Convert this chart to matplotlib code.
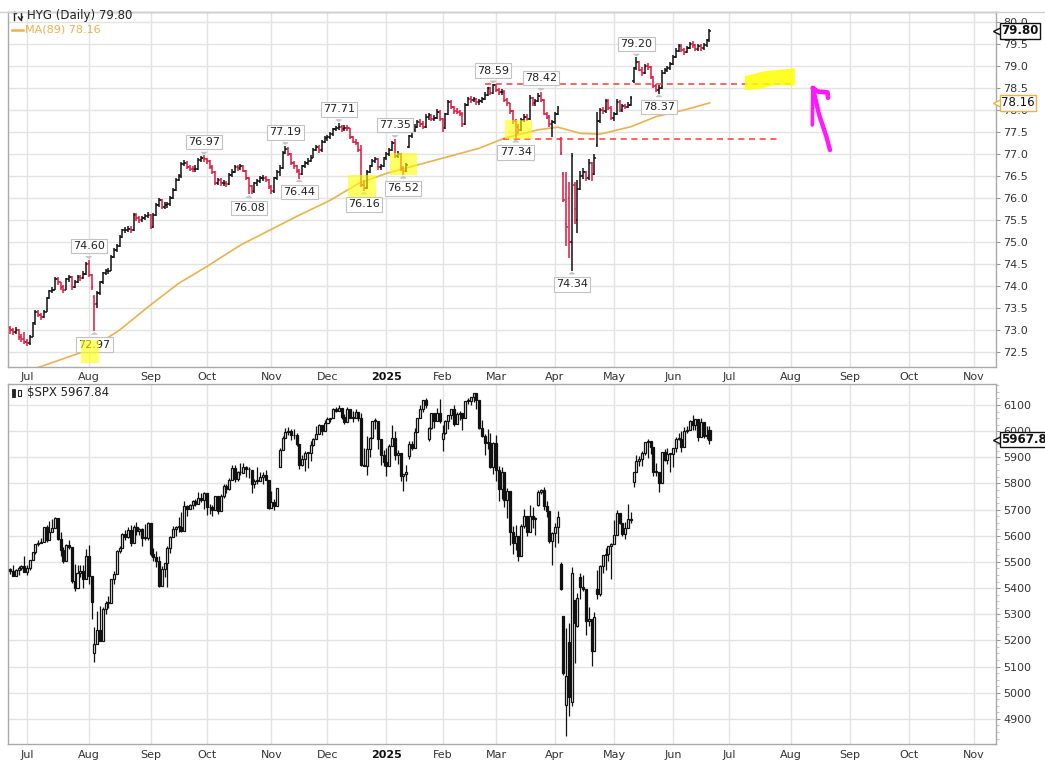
import numpy as np
import pandas as pd
import matplotlib
matplotlib.use("Agg")
import matplotlib.pyplot as plt
from matplotlib import transforms
from matplotlib.patches import Polygon, Rectangle
from matplotlib.lines import Line2D

# trading calendar (NYSE holidays removed)
holidays = ["2024-07-04", "2024-09-02", "2024-11-28", "2024-12-25", "2025-01-01",
            "2025-01-09", "2025-01-20", "2025-02-17", "2025-04-18", "2025-05-26",
            "2025-06-19", "2025-07-04", "2025-09-01", "2025-11-27"]

# ---------------- HYG daily (adjusted) ----------------
hyg_close = [
    # Jun 2024
    73.00, 72.95, 73.00, 72.85, 72.80, 72.72,
    # Jul
    72.70, 72.85, 73.15, 73.40, 73.35, 73.30, 73.42, 73.72, 73.88, 73.92, 74.15,
    74.08, 73.98, 73.92, 74.15, 74.20, 73.98, 74.10, 74.20, 74.18, 74.28, 74.50,
    # Aug
    74.25, 73.98, 73.60, 73.83, 74.08, 74.29, 74.33, 74.35, 74.67, 74.82, 74.90,
    75.12, 75.27, 75.27, 75.30, 75.28, 75.61, 75.54, 75.50, 75.54, 75.58, 75.62,
    # Sep
    75.35, 75.62, 75.84, 75.95, 75.80, 75.84, 75.86, 76.00, 76.18, 76.41, 76.50,
    76.78, 76.80, 76.71, 76.67, 76.66, 76.67, 76.86, 76.90, 76.88,
    # Oct
    76.83, 76.71, 76.60, 76.35, 76.41, 76.33, 76.33, 76.32, 76.52, 76.60, 76.71,
    76.68, 76.72, 76.62, 76.45, 76.28, 76.15, 76.33, 76.38, 76.45, 76.45, 76.42, 76.25,
    # Nov
    76.15, 76.45, 76.60, 76.68, 77.02, 77.12, 77.00, 76.80, 76.72, 76.62, 76.55,
    76.72, 76.80, 76.85, 76.92, 77.10, 77.15, 77.08, 77.28, 77.36,
    # Dec
    77.38, 77.45, 77.56, 77.58, 77.62, 77.56, 77.60, 77.58, 77.38, 77.28, 77.25,
    77.10, 76.30, 76.22, 76.60, 76.72, 76.85, 76.88, 76.70, 76.72, 76.90,
    # Jan 2025
    77.00, 77.09, 77.25, 76.95, 77.00, 76.68, 76.62, 76.75, 77.40, 77.55, 77.62,
    77.72, 77.68, 77.62, 77.85, 77.88, 77.80, 77.82, 77.96, 77.80,
    # Feb
    77.58, 77.90, 78.19, 78.07, 77.98, 77.96, 77.92, 77.68, 78.12, 78.26, 78.22,
    78.25, 78.18, 78.20, 78.25, 78.34, 78.49, 78.38, 78.57,
    # Mar
    78.45, 78.40, 78.42, 78.23, 78.15, 77.98, 77.75, 77.62, 77.55, 77.77, 77.85,
    77.80, 78.27, 78.15, 78.20, 78.32, 78.22, 77.92, 77.85, 77.68, 77.72,
    # Apr
    77.92, 78.05, 77.02, 75.95, 75.35, 75.00, 76.95, 75.75, 76.20, 76.50, 76.60,
    76.45, 76.80, 76.55, 76.90, 77.75, 78.00, 77.98, 78.20, 78.05, 77.82,
    # May
    77.90, 78.19, 78.00, 78.10, 78.07, 78.12, 78.27, 78.95, 79.10, 78.92, 78.85,
    79.00, 78.97, 78.75, 78.55, 78.45, 78.50, 78.85, 78.90, 78.95, 79.05,
    # Jun
    79.20, 79.35, 79.45, 79.37, 79.32, 79.42, 79.50, 79.47, 79.38, 79.45, 79.40,
    79.47, 79.58, 79.80,
]
hyg_high = [
    73.10, 73.05, 73.06, 73.02, 72.90, 72.96,
    72.80, 72.88, 73.18, 73.45, 73.46, 73.38, 73.46, 73.75, 73.92, 73.98, 74.20,
    74.20, 74.10, 74.02, 74.18, 74.26, 74.22, 74.14, 74.25, 74.26, 74.33, 74.55,
    74.60, 74.28, 73.80, 73.88, 74.12, 74.32, 74.38, 74.40, 74.70, 74.86, 74.95,
    75.15, 75.30, 75.34, 75.36, 75.36, 75.65, 75.66, 75.58, 75.60, 75.64, 75.68,
    75.64, 75.66, 75.88, 76.00, 75.98, 75.90, 75.92, 76.04, 76.22, 76.45, 76.55,
    76.82, 76.86, 76.83, 76.76, 76.73, 76.74, 76.90, 76.95, 76.97,
    76.92, 76.86, 76.74, 76.62, 76.46, 76.45, 76.40, 76.38, 76.56, 76.65, 76.75,
    76.76, 76.78, 76.75, 76.64, 76.47, 76.30, 76.37, 76.43, 76.50, 76.52, 76.50, 76.44,
    76.30, 76.48, 76.64, 76.75, 77.06, 77.19, 77.15, 77.02, 76.85, 76.75, 76.65,
    76.76, 76.84, 76.90, 76.97, 77.14, 77.20, 77.20, 77.32, 77.40,
    77.44, 77.50, 77.60, 77.64, 77.71, 77.66, 77.65, 77.66, 77.60, 77.42, 77.34,
    77.28, 77.20, 76.40, 76.64, 76.76, 76.88, 76.94, 76.90, 76.78, 76.94,
    77.05, 77.14, 77.30, 77.35, 77.06, 77.02, 76.72, 76.80, 77.44, 77.60, 77.68,
    77.78, 77.80, 77.74, 77.90, 77.94, 77.92, 77.88, 78.02, 78.00,
    77.82, 77.94, 78.22, 78.22, 78.10, 78.04, 78.00, 77.95, 78.16, 78.30, 78.32,
    78.30, 78.28, 78.26, 78.30, 78.40, 78.53, 78.52, 78.59,
    78.58, 78.50, 78.48, 78.45, 78.27, 78.17, 78.00, 77.80, 77.68, 77.82, 77.90,
    77.92, 78.34, 78.30, 78.26, 78.38, 78.42, 78.24, 77.96, 77.88, 77.78,
    77.96, 78.10, 77.38, 76.58, 76.60, 76.37, 77.02, 76.37, 76.40, 76.62, 76.68,
    76.62, 76.88, 76.82, 77.00, 77.96, 78.05, 78.06, 78.24, 78.24, 78.08,
    77.96, 78.24, 78.22, 78.14, 78.14, 78.18, 78.32, 78.98, 79.20, 79.12, 78.98,
    79.05, 79.06, 79.00, 78.78, 78.60, 78.56, 78.90, 78.96, 79.00, 79.10,
    79.24, 79.40, 79.50, 79.50, 79.42, 79.46, 79.55, 79.56, 79.50, 79.50, 79.50,
    79.52, 79.62, 79.85,
]
hyg_low = [
    72.92, 72.88, 72.90, 72.78, 72.72, 72.68,
    72.64, 72.66, 72.84, 73.12, 73.30, 73.22, 73.28, 73.40, 73.70, 73.84, 73.90,
    74.02, 73.90, 73.84, 73.90, 74.10, 73.92, 73.95, 74.06, 74.12, 74.15, 74.26,
    74.20, 73.90, 72.97, 73.50, 73.80, 74.05, 74.24, 74.28, 74.33, 74.64, 74.78,
    74.88, 75.10, 75.20, 75.22, 75.20, 75.26, 75.48, 75.44, 75.46, 75.50, 75.54,
    75.30, 75.32, 75.60, 75.80, 75.74, 75.76, 75.78, 75.82, 75.97, 76.15, 76.38,
    76.46, 76.72, 76.66, 76.62, 76.60, 76.60, 76.64, 76.82, 76.82,
    76.78, 76.66, 76.55, 76.30, 76.30, 76.28, 76.27, 76.26, 76.30, 76.48, 76.57,
    76.62, 76.64, 76.58, 76.40, 76.08, 76.10, 76.12, 76.28, 76.35, 76.39, 76.37, 76.20,
    76.10, 76.12, 76.42, 76.50, 76.66, 77.00, 76.95, 76.75, 76.66, 76.56, 76.44,
    76.52, 76.68, 76.76, 76.82, 76.90, 77.06, 77.02, 77.05, 77.24,
    77.30, 77.34, 77.42, 77.52, 77.54, 77.50, 77.52, 77.52, 77.34, 77.24, 77.20,
    77.05, 76.25, 76.16, 76.20, 76.56, 76.70, 76.80, 76.64, 76.64, 76.70,
    76.86, 76.96, 77.06, 76.90, 76.90, 76.62, 76.52, 76.60, 77.14, 77.36, 77.50,
    77.58, 77.62, 77.56, 77.60, 77.78, 77.74, 77.74, 77.80, 77.75,
    77.50, 77.56, 77.88, 78.02, 77.92, 77.90, 77.86, 77.62, 77.66, 78.10, 78.16,
    78.18, 78.12, 78.12, 78.16, 78.22, 78.32, 78.33, 78.36,
    78.40, 78.34, 78.35, 78.18, 78.08, 77.92, 77.68, 77.34, 77.45, 77.52, 77.72,
    77.74, 77.78, 78.10, 78.10, 78.18, 78.18, 77.88, 77.80, 77.62, 77.38,
    77.68, 77.88, 76.98, 75.92, 74.90, 74.63, 74.34, 75.40, 75.20, 76.18, 76.44,
    76.38, 76.42, 76.38, 76.52, 77.17, 77.70, 77.92, 77.94, 78.00, 77.78,
    77.76, 77.88, 77.96, 77.95, 78.02, 78.04, 78.10, 78.61, 78.92, 78.88, 78.78,
    78.82, 78.90, 78.70, 78.50, 78.40, 78.37, 78.48, 78.82, 78.86, 78.92,
    79.02, 79.18, 79.32, 79.32, 79.26, 79.30, 79.38, 79.42, 79.33, 79.34, 79.35,
    79.36, 79.44, 79.55,
]
# opens that differ from the prior close (gaps)
hyg_gap_open = {"2024-06-21": 73.05, "2024-08-05": 73.75, "2025-01-15": 77.15,
                "2025-04-03": 77.35, "2025-04-04": 76.55, "2025-04-07": 75.40,
                "2025-04-08": 76.00, "2025-04-10": 76.30, "2025-04-11": 75.50,
                "2025-04-23": 77.20, "2025-05-12": 78.65}

# MA(89)
ma_dates = ["2024-06-21", "2024-07-09", "2024-08-01", "2024-08-16", "2024-09-03",
            "2024-09-17", "2024-10-01", "2024-10-17", "2024-11-14", "2024-12-03",
            "2024-12-17", "2025-01-02", "2025-01-21", "2025-02-05", "2025-02-21",
            "2025-03-06", "2025-03-24", "2025-04-02", "2025-04-14", "2025-04-24",
            "2025-05-09", "2025-05-22", "2025-06-06", "2025-06-20"]
ma_vals = [71.95, 72.17, 72.55, 73.00, 73.57, 74.06, 74.44, 74.93, 75.58, 75.95,
           76.33, 76.56, 76.75, 76.94, 77.13, 77.36, 77.55, 77.61, 77.47, 77.45,
           77.62, 77.85, 78.00, 78.16]

# labelled swing points (date, high/low)
hyg_marks = [("2024-08-01", "high"), ("2024-08-05", "low"), ("2024-09-30", "high"),
             ("2024-10-22", "low"), ("2024-11-08", "high"), ("2024-11-15", "low"),
             ("2024-12-06", "high"), ("2024-12-19", "low"), ("2025-01-07", "high"),
             ("2025-01-13", "low"), ("2025-02-28", "high"), ("2025-03-12", "low"),
             ("2025-03-25", "high"), ("2025-04-09", "low"), ("2025-05-13", "high"),
             ("2025-05-23", "low")]

# ---------------- $SPX daily ----------------
spx_close = [
    5464.62, 5447.87, 5469.30, 5477.90, 5482.87, 5460.48,
    5475.09, 5509.01, 5537.02, 5567.19, 5572.85, 5576.98, 5633.91, 5584.54, 5615.35,
    5631.22, 5667.20, 5588.27, 5544.59, 5505.00, 5564.41, 5555.74, 5427.13, 5399.22,
    5459.10, 5463.54, 5436.44, 5522.30,
    5446.68, 5346.56, 5186.33, 5240.03, 5199.50, 5319.31, 5344.16, 5344.39, 5434.43,
    5455.21, 5543.22, 5554.25, 5608.25, 5597.12, 5620.85, 5570.64, 5634.61, 5616.84,
    5625.80, 5592.18, 5591.96, 5648.40,
    5528.93, 5520.07, 5503.41, 5408.42, 5471.05, 5495.52, 5554.13, 5595.76, 5626.02,
    5633.09, 5634.58, 5618.26, 5713.64, 5702.55, 5718.57, 5732.93, 5722.26, 5745.37,
    5738.17, 5762.48,
    5708.75, 5709.54, 5699.94, 5751.07, 5695.94, 5751.13, 5792.04, 5780.05, 5815.03,
    5859.85, 5815.26, 5842.47, 5841.47, 5864.67, 5853.98, 5851.20, 5797.42, 5809.86,
    5808.12, 5823.52, 5832.92, 5813.67, 5705.45,
    5728.80, 5712.69, 5782.76, 5929.04, 5973.10, 5995.54, 6001.35, 5983.99, 5985.38,
    5949.17, 5870.62, 5893.62, 5916.98, 5917.11, 5948.71, 5969.34, 5987.37, 6021.63,
    5998.74, 6032.38,
    6047.15, 6049.88, 6086.49, 6075.11, 6090.27, 6052.85, 6034.91, 6084.19, 6051.25,
    6051.09, 6074.08, 6050.61, 5872.16, 5867.08, 5930.85, 5974.07, 6040.04, 6037.59,
    5970.84, 5906.94, 5881.63,
    5868.55, 5942.47, 5975.38, 5909.03, 5918.25, 5827.04, 5836.22, 5842.91, 5949.91,
    5937.34, 5996.66, 6049.24, 6086.37, 6118.71, 6101.24, 6012.28, 6067.70, 6039.31,
    6071.17, 6040.53,
    5994.57, 6037.88, 6061.48, 6083.57, 6025.99, 6066.44, 6068.50, 6051.97, 6115.07,
    6114.63, 6129.58, 6144.15, 6117.52, 6013.13, 5983.25, 5955.25, 5956.06, 5861.57,
    5954.50,
    5849.72, 5778.15, 5842.63, 5738.52, 5770.20, 5614.56, 5572.07, 5599.30, 5521.52,
    5638.94, 5675.12, 5614.66, 5675.29, 5662.89, 5667.56, 5767.57, 5776.65, 5712.20,
    5693.31, 5580.94, 5611.85,
    5633.07, 5670.97, 5396.52, 5074.08, 5062.25, 4982.77, 5456.90, 5268.05, 5363.36,
    5405.97, 5396.63, 5275.70, 5282.70, 5158.20, 5287.76, 5375.86, 5484.77, 5525.21,
    5528.75, 5560.83, 5569.06,
    5604.14, 5686.67, 5650.38, 5606.91, 5631.28, 5663.94, 5659.91, 5844.19, 5886.55,
    5892.58, 5916.93, 5958.38, 5963.60, 5940.46, 5844.61, 5842.01, 5802.82, 5921.54,
    5888.55, 5912.17, 5911.69,
    5935.94, 5970.37, 5970.81, 5939.30, 6000.36, 6005.88, 6038.81, 6022.24, 6045.26,
    5976.97, 6033.11, 5982.72, 5980.87, 5967.84,
]
spx_high = [
    5478, 5490, 5472, 5483, 5490, 5524,
    5490, 5509, 5539, 5570, 5583, 5590, 5635, 5642, 5655, 5666, 5670, 5622, 5614, 5557,
    5570, 5585, 5508, 5491, 5488, 5488, 5487, 5551,
    5566, 5397, 5250, 5312, 5330, 5328, 5351, 5371, 5436, 5464, 5546, 5562, 5609, 5621,
    5633, 5643, 5641, 5651, 5628, 5631, 5646, 5651,
    5623, 5552, 5540, 5523, 5484, 5497, 5561, 5600, 5637, 5636, 5670, 5690, 5733, 5716,
    5722, 5735, 5741, 5767, 5764, 5766,
    5757, 5720, 5718, 5753, 5739, 5758, 5796, 5796, 5822, 5871, 5870, 5846, 5879, 5878,
    5867, 5864, 5835, 5817, 5862, 5843, 5842, 5851, 5775,
    5772, 5741, 5784, 5936, 5983, 6012, 6017, 6008, 6009, 5993, 5915, 5909, 5925, 5920,
    5963, 5973, 6021, 6026, 6021, 6044,
    6053, 6052, 6087, 6092, 6099, 6088, 6065, 6092, 6080, 6078, 6085, 6058, 6070, 5935,
    5982, 5978, 6040, 6049, 6006, 5940, 5929,
    5935, 5949, 6022, 6001, 5928, 5907, 5837, 5872, 5961, 5964, 6013, 6051, 6100, 6119,
    6128, 6017, 6070, 6064, 6087, 6121,
    6022, 6042, 6062, 6084, 6101, 6074, 6076, 6063, 6117, 6128, 6130, 6147, 6134, 6114,
    6044, 5988, 6009, 5994, 5959,
    5987, 5866, 5861, 5812, 5783, 5705, 5636, 5642, 5598, 5645, 5703, 5670, 5716, 5711,
    5670, 5775, 5778, 5786, 5732, 5685, 5615,
    5650, 5695, 5500, 5292, 5247, 5267, 5481, 5353, 5381, 5459, 5450, 5367, 5329, 5232,
    5310, 5469, 5489, 5528, 5553, 5562, 5571,
    5659, 5700, 5684, 5643, 5654, 5720, 5690, 5845, 5907, 5906, 5924, 5959, 5969, 5954,
    5938, 5878, 5830, 5922, 5930, 5935, 5915,
    5937, 5978, 5991, 5999, 6017, 6021, 6044, 6060, 6046, 6026, 6050, 6024, 6018, 6019,
]
spx_low = [
    5452, 5447, 5446, 5451, 5468, 5460,
    5451, 5468, 5507, 5531, 5562, 5574, 5586, 5576, 5583, 5614, 5640, 5584, 5522, 5497,
    5523, 5550, 5420, 5390, 5419, 5444, 5401, 5478,
    5416, 5283, 5119, 5193, 5196, 5223, 5300, 5325, 5361, 5416, 5502, 5535, 5555, 5584,
    5592, 5560, 5585, 5603, 5602, 5561, 5585, 5582,
    5522, 5504, 5479, 5403, 5434, 5441, 5406, 5536, 5604, 5601, 5614, 5615, 5687, 5674,
    5703, 5703, 5713, 5721, 5728, 5703,
    5681, 5683, 5675, 5702, 5683, 5708, 5745, 5762, 5775, 5824, 5804, 5808, 5833, 5846,
    5825, 5822, 5763, 5784, 5799, 5823, 5798, 5813, 5703,
    5724, 5697, 5725, 5864, 5937, 5977, 5986, 5965, 5970, 5945, 5854, 5865, 5849, 5860,
    5884, 5944, 5972, 5992, 5985, 6010,
    6033, 6034, 6062, 6072, 6083, 6048, 6026, 6056, 6049, 6035, 6060, 6040, 5867, 5865,
    5832, 5903, 5982, 6008, 5932, 5870, 5868,
    5830, 5888, 5960, 5890, 5874, 5809, 5773, 5811, 5895, 5927, 5978, 6007, 6066, 6075,
    6088, 5962, 6009, 6013, 6041, 6030,
    5923, 5990, 6007, 6048, 6020, 6048, 6042, 6003, 6052, 6103, 6100, 6112, 6085, 6009,
    5977, 5908, 5932, 5858, 5837,
    5810, 5733, 5742, 5711, 5667, 5565, 5529, 5546, 5505, 5563, 5631, 5601, 5622, 5631,
    5604, 5715, 5759, 5700, 5671, 5572, 5489,
    5558, 5571, 5391, 5069, 4835, 4910, 4948, 5115, 5250, 5359, 5387, 5220, 5255, 5101,
    5207, 5357, 5371, 5456, 5468, 5503, 5434,
    5597, 5631, 5645, 5598, 5587, 5644, 5650, 5786, 5843, 5868, 5867, 5908, 5896, 5914,
    5830, 5830, 5767, 5854, 5886, 5875, 5843,
    5861, 5922, 5967, 5921, 5978, 5994, 6006, 6004, 6004, 5964, 6004, 5975, 5971, 5952,
]
spx_gap_open = {"2024-06-21": 5473, "2024-08-05": 5151, "2024-11-06": 5864,
                "2025-01-15": 5905, "2025-01-27": 5969, "2025-02-03": 5969,
                "2025-03-24": 5719, "2025-04-03": 5492, "2025-04-04": 5292,
                "2025-04-07": 4953, "2025-04-08": 5194, "2025-04-09": 4965,
                "2025-04-10": 5353, "2025-04-11": 5256, "2025-04-14": 5442,
                "2025-04-23": 5396, "2025-05-12": 5807, "2025-06-20": 6004}

# ---------------------------------------------------------------
days = pd.bdate_range("2024-06-21", "2025-11-28")
days = days[~days.isin(pd.to_datetime(holidays))]
n = len(hyg_close)
keys = [d.strftime("%Y-%m-%d") for d in days]
pos = {k: i for i, k in enumerate(keys)}
x = np.arange(n)


def opens(close, gaps):
    out = []
    for i in range(len(close)):
        prev = close[i - 1] if i else close[0]
        out.append(gaps.get(keys[i], prev))
    return np.array(out)


hc, hh, hl = map(np.array, (hyg_close, hyg_high, hyg_low))
ho = opens(hyg_close, hyg_gap_open)
sc, sh, sl = map(np.array, (spx_close, spx_high, spx_low))
so = opens(spx_close, spx_gap_open)

W, H = 1045, 762
fig = plt.figure(figsize=(W / 100, H / 100), dpi=100)


def fx(px):
    return px / W


def fy(py):
    return 1 - py / H


ax1 = fig.add_axes([fx(8.3), fy(366.7), fx(996) - fx(8.3), fy(11.7) - fy(366.7)])
ax2 = fig.add_axes([fx(8.3), fy(744), fx(996) - fx(8.3), fy(384.3) - fy(744)])

month_idx = [i for i in range(1, len(days)) if days[i].month != days[i - 1].month]
month_lab = ["2025" if days[i].month == 1 else days[i].strftime("%b") for i in month_idx]

GRID = "#e3e3e3"
SPINE = "#a9a9a9"
RED = "#e0163e"
ORANGE = "#ebb24c"

for ax in (ax1, ax2):
    ax.set_xlim(-0.64, 351)
    ax.set_xticks(month_idx)
    ax.set_xticklabels(month_lab, fontsize=8, color="#333333")
    for lab in ax.get_xticklabels():
        if lab.get_text() == "2025":
            lab.set_fontweight("bold")
            lab.set_color("#111111")
    ax.tick_params(axis="x", length=0, pad=4)
    ax.yaxis.tick_right()
    ax.tick_params(axis="y", length=3, width=0.8, color="#999999", pad=2,
                   labelsize=8, labelcolor="#333333")
    ax.grid(True, color=GRID, lw=1)
    ax.set_axisbelow(True)
    for s in ax.spines.values():
        s.set_color(SPINE)
        s.set_linewidth(1)

ax1.set_ylim(72.166, 80.234)
ax1.set_yticks(np.arange(72.5, 80.01, 0.5))
ax1.set_yticklabels([f"{v:.1f}" for v in np.arange(72.5, 80.01, 0.5)])
ax2.set_ylim(4804, 6179)
ax2.set_yticks(np.arange(4900, 6101, 100))
ax2.set_yticks(np.arange(4825, 6179, 25), minor=True)
ax2.tick_params(axis="y", which="minor", length=2, color="#bbbbbb")

# ---- HYG OHLC bars ----
prev = np.r_[ho[0], hc[:-1]]
cols = np.where(hc < prev, RED, "#111111")
ax1.vlines(x, hl, hh, colors=cols, lw=1.1, zorder=3)
ax1.hlines(ho, x - 0.55, x, colors=cols, lw=1.1, zorder=3)
ax1.hlines(hc, x, x + 0.55, colors=cols, lw=1.1, zorder=3)

# MA(89)
ax1.plot([pos[d] for d in ma_dates], ma_vals, color=ORANGE, lw=1.2, zorder=2)

# red dashed levels
lvl_hi = hh[pos["2025-02-28"]]
lvl_lo = hl[pos["2025-03-12"]]
ax1.hlines(lvl_hi, 169, 278, colors="#ff3b3b", lw=1.1, linestyles=(0, (4, 3)), zorder=4)
ax1.hlines(lvl_lo, 175.5, 274.5, colors="#ff3b3b", lw=1.1, linestyles=(0, (4, 3)), zorder=4)

# swing labels
for d, kind in hyg_marks:
    i = pos[d]
    val = hh[i] if kind == "high" else hl[i]
    up = kind == "high"
    ax1.annotate(f"{val:.2f}", xy=(i, val), xytext=(0, 6 if up else -6),
                 textcoords="offset points", ha="center",
                 va="bottom" if up else "top", fontsize=8, color="#222222",
                 bbox=dict(boxstyle="square,pad=0.2", fc="white", ec="#c2c2c2", lw=0.8),
                 arrowprops=dict(arrowstyle="wedge,tail_width=0.45,shrink_factor=0.5",
                                 fc="white", ec="#c2c2c2", lw=0.8, shrinkB=1),
                 zorder=6)

# yellow highlighter boxes
for (a, b, lo, hi) in [(25.2, 31.6, 72.25, 72.77), (120.4, 130.2, 76.03, 76.52),
                       (135.2, 144.7, 76.52, 77.02), (176.2, 185.7, 77.34, 77.77)]:
    ax1.add_patch(Rectangle((a, lo), b - a, hi - lo, fc="#ffff00", ec="none",
                            alpha=0.6, zorder=7))
ax1.add_patch(Polygon([(261.6, 78.77), (268.7, 78.88), (279.4, 78.95), (279.4, 78.55),
                       (272.3, 78.57), (267.0, 78.48), (261.6, 78.45)],
                      closed=True, fc="#ffff00", ec="none", alpha=0.85, zorder=7))

# magenta pen arrow
ax1.plot([291.9, 290.6, 288.0, 285.8], [77.09, 77.40, 77.90, 78.50],
         color="#ff19ff", lw=3.2, solid_capstyle="round", zorder=8, clip_on=False)
ax1.plot([285.6, 285.8], [77.66, 78.50], color="#ff19ff", lw=2.6,
         solid_capstyle="round", zorder=8)
ax1.plot([285.8, 287.5, 291.0, 291.2], [78.50, 78.42, 78.40, 78.28],
         color="#ff19ff", lw=3.4, solid_capstyle="round", zorder=8)

# ---- SPX candles ----
up = sc >= so
ax2.vlines(x, sl, sh, colors="#111111", lw=0.9, zorder=3)
body = np.where(np.abs(sc - so) < 3, 3, sc - so)
ax2.bar(x, body, bottom=so, width=0.72, color=np.where(up, "white", "#111111"),
        edgecolor="#111111", linewidth=0.9, zorder=4)


# ---- right-side price tags ----
def price_tag(ax, value, text, edge, bold):
    tr = transforms.blended_transform_factory(ax.transAxes, ax.transData)
    tr_txt = transforms.offset_copy(tr, fig=fig, x=5, y=0, units="dots")
    tr_tip = transforms.offset_copy(tr, fig=fig, x=3, y=0, units="dots")
    ax.plot([1.0], [value], marker="<", ms=8, mfc="white", mec=edge, mew=1,
            transform=tr_tip, clip_on=False, zorder=9)
    ax.text(1.0, value, text, transform=tr_txt, ha="left", va="center",
            fontsize=8.5, fontweight="bold" if bold else "normal", color="#111111",
            bbox=dict(boxstyle="square,pad=0.12", fc="white", ec=edge, lw=1),
            clip_on=False, zorder=10)


price_tag(ax1, hc[-1], f"{hc[-1]:.2f}", "#111111", True)
price_tag(ax1, ma_vals[-1], f"{ma_vals[-1]:.2f}", ORANGE, False)
price_tag(ax2, sc[-1], f"{sc[-1]:.2f}", "#111111", True)

# ---- legend texts ----
fig.text(fx(27), fy(16), f"HYG (Daily) {hc[-1]:.2f}", fontsize=8.5, color="#222222",
         ha="left", va="center")
fig.text(fx(25), fy(30), f"MA(89) {ma_vals[-1]:.2f}", fontsize=8, color=ORANGE,
         ha="left", va="center")
fig.add_artist(Line2D([fx(12), fx(23)], [fy(30), fy(30)], color=ORANGE, lw=1.8))
fig.text(fx(27), fy(393), f"$SPX {sc[-1]:.2f}", fontsize=8.5, color="#222222",
         ha="left", va="center")

# little bar icons
for (xa, y0, y1) in [(13.5, 20, 12), (20.5, 12, 20)]:
    fig.add_artist(Line2D([fx(xa), fx(xa)], [fy(y0), fy(y1)], color="#222222", lw=1))
fig.add_artist(Line2D([fx(13.5), fx(16)], [fy(13), fy(13)], color="#222222", lw=1))
fig.add_artist(Line2D([fx(18.5), fx(20.5), fx(22.5)], [fy(17), fy(20), fy(17)],
                      color="#222222", lw=1))
fig.add_artist(Rectangle((fx(12), fy(397)), fx(3), fy(389) - fy(397),
                         transform=fig.transFigure, fc="#222222", ec="#222222", lw=0.6))
fig.add_artist(Rectangle((fx(18), fy(396)), fx(3), fy(390) - fy(396),
                         transform=fig.transFigure, fc="white", ec="#222222", lw=0.8))

# window frame line at the top
fig.add_artist(Line2D([0, 1], [fy(11.7), fy(11.7)], color="#cfcfcf", lw=1))

fig.savefig("out.png", dpi=100)
